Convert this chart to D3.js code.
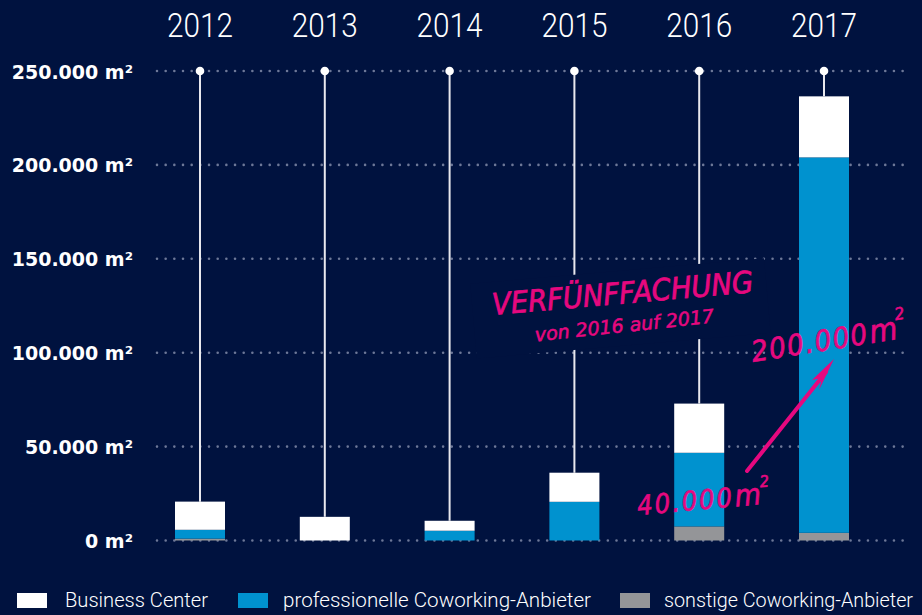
<!DOCTYPE html>
<html>
<head>
<meta charset="utf-8">
<script src="https://cdn.jsdelivr.net/npm/d3@7/dist/d3.min.js"></script>
<style>
  html, body { margin: 0; padding: 0; background: #00123f; }
  svg { display: block; }
</style>
</head>
<body>
<svg id="chart" width="922" height="615"></svg>
<script>
// ---- data ----
const years = ["2012", "2013", "2014", "2015", "2016", "2017"];
const businessCenter = [15000, 12600, 5300, 15500, 26200, 32500];
const profCoworking = [4700, 0, 5200, 20600, 39200, 199900];
const sonstCoworking = [1000, 0, 0, 0, 7500, 4100];
const yTicks = [0, 50000, 100000, 150000, 200000, 250000];
const seriesNames = ["Business Center", "professionelle Coworking-Anbieter", "sonstige Coworking-Anbieter"];

// ---- styles ----
const BG = "#00123f";
const colors = { sonst: "#949598", prof: "#0092cf", bc: "#ffffff" };
const PINK = "#e6087f";

const svg = d3.select("#chart");
svg.append("rect").attr("width", 922).attr("height", 615).attr("fill", BG);

const x = d3.scalePoint().domain(years).range([200, 824]);
const y = d3.scaleLinear().domain([0, 250000]).range([540.5, 71]);
const barW = 50;

const rows = years.map((yr, i) => ({ year: yr, sonst: sonstCoworking[i], prof: profCoworking[i], bc: businessCenter[i] }));
const stack = d3.stack().keys(["sonst", "prof", "bc"]);
const stacked = stack(rows);

// gridlines (dotted)
svg.append("g").selectAll("line").data(yTicks).join("line")
  .attr("x1", 157).attr("x2", 908)
  .attr("y1", d => y(d)).attr("y2", d => y(d))
  .attr("stroke", "#6d7898").attr("stroke-width", 2.6)
  .attr("stroke-linecap", "round").attr("stroke-dasharray", "0 8.67");

// y axis labels
const yAxis = d3.axisLeft(y).tickValues(yTicks).tickSize(0).tickPadding(0)
  .tickFormat(d => d3.format(",")(d).replace(/,/g, ".") + " m²");
const gy = svg.append("g").attr("transform", "translate(133,0)").call(yAxis);
gy.select(".domain").remove();
gy.selectAll("text").attr("fill", "#ffffff")
  .attr("font-family", "DejaVu Sans").attr("font-weight", "bold")
  .attr("font-size", 19).attr("dy", "0.37em");

// year labels on top
svg.append("g").selectAll("text").data(years).join("text")
  .attr("x", d => x(d)).attr("y", 37)
  .attr("text-anchor", "middle").attr("fill", "#ffffff")
  .attr("font-family", "Roboto").attr("font-weight", 300)
  .attr("font-size", 33).attr("textLength", 66).attr("lengthAdjust", "spacingAndGlyphs")
  .text(d => d);

// stems + dots
const totals = rows.map(r => r.sonst + r.prof + r.bc);
svg.append("g").selectAll("line").data(years).join("line")
  .attr("x1", d => x(d)).attr("x2", d => x(d))
  .attr("y1", y(250000)).attr("y2", (d, i) => y(totals[i]))
  .attr("stroke", "#e8e8ee").attr("stroke-width", 2);
svg.append("g").selectAll("circle").data(years).join("circle")
  .attr("cx", d => x(d)).attr("cy", y(250000)).attr("r", 4.3).attr("fill", "#ffffff");

// bars
svg.append("g").selectAll("g").data(stacked).join("g")
  .attr("fill", s => colors[s.key])
  .selectAll("rect").data(s => s).join("rect")
  .attr("x", d => x(d.data.year) - barW / 2)
  .attr("width", barW)
  .attr("y", d => y(d[1]))
  .attr("height", d => Math.max(0, y(d[0]) - y(d[1])));

// annotation box + text
const handFont = "DejaVu Sans Condensed, DejaVu Sans";
const ann = svg.append("g").attr("transform", "translate(493,315) rotate(-5)");
ann.append("rect").attr("x", -20).attr("y", -33).attr("width", 295).attr("height", 75).attr("fill", BG);
ann.append("text").attr("x", 0).attr("y", 0)
  .attr("fill", PINK).attr("stroke", PINK).attr("stroke-width", 0.7)
  .attr("font-family", handFont)
  .attr("font-style", "italic").attr("font-size", 30)
  .attr("textLength", 262).attr("lengthAdjust", "spacingAndGlyphs")
  .text("VERFÜNFFACHUNG");
ann.append("text").attr("x", 40).attr("y", 30)
  .attr("fill", PINK).attr("stroke", PINK).attr("stroke-width", 0.5)
  .attr("font-family", handFont)
  .attr("font-style", "italic").attr("font-size", 19)
  .attr("textLength", 180).attr("lengthAdjust", "spacingAndGlyphs")
  .attr("transform", "rotate(-1,40,30)")
  .text("von 2016 auf 2017");

// 40.000 m²
const a40 = svg.append("g").attr("transform", "translate(638,515) rotate(-5)");
const t40 = a40.append("text").attr("fill", PINK).attr("stroke", PINK).attr("stroke-width", 0.6)
  .attr("font-family", handFont).attr("font-style", "italic");
t40.append("tspan").attr("font-size", 27).attr("letter-spacing", 2).text("40.000");
t40.append("tspan").attr("font-size", 30).attr("dx", 1).text("m");
t40.append("tspan").attr("font-size", 16).attr("dy", -17).text("2");

// 200.000 m²
const a200 = svg.append("g").attr("transform", "translate(753,362) rotate(-9)");
const t200 = a200.append("text").attr("fill", PINK).attr("stroke", PINK).attr("stroke-width", 0.6)
  .attr("font-family", handFont).attr("font-style", "italic");
t200.append("tspan").attr("font-size", 29).attr("letter-spacing", 1.5).text("200.000");
t200.append("tspan").attr("font-size", 32).attr("dx", 1).text("m");
t200.append("tspan").attr("font-size", 17).attr("dy", -19).text("2");

// arrow
svg.append("line").attr("x1", 747).attr("y1", 471).attr("x2", 826).attr("y2", 372)
  .attr("stroke", PINK).attr("stroke-width", 4).attr("stroke-linecap", "round");
svg.append("path").attr("d", "M834,359 L812,380 L822,378 L819,390 Z").attr("fill", PINK);

// legend
const legX = [17, 238, 620];
const legTextX = [65, 283, 664];
const legTextW = [143, 308, 249];
const legColors = [colors.bc, colors.prof, colors.sonst];
const leg = svg.append("g").selectAll("g").data(seriesNames).join("g");
leg.append("rect").attr("x", (d, i) => legX[i]).attr("y", 593).attr("width", 30).attr("height", 15)
  .attr("fill", (d, i) => legColors[i]);
leg.append("text").attr("x", (d, i) => legTextX[i]).attr("y", 607)
  .attr("fill", "#ffffff").attr("font-family", "Roboto").attr("font-weight", 300)
  .attr("font-size", 20).attr("textLength", (d, i) => legTextW[i]).attr("lengthAdjust", "spacingAndGlyphs")
  .text(d => d);
</script>
</body>
</html>
